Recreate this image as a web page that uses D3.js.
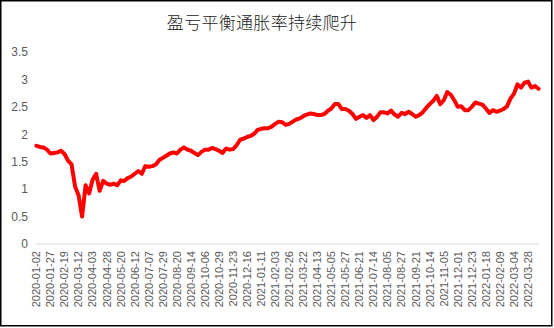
<!DOCTYPE html>
<html>
<head>
<meta charset="utf-8">
<script src="https://cdn.jsdelivr.net/npm/d3@7"></script>
<style>
  html, body { margin: 0; padding: 0; background: #fff; }
  svg { display: block; }
  .axis text { font-family: "Liberation Sans", Arial, sans-serif; fill: #595959; }
</style>
</head>
<body>
<svg id="chart" width="554" height="328"></svg>
<script>
// 10-year breakeven inflation rate (%), one reading every 4 trading days
const breakeven = [
  1.79, 1.77, 1.76, 1.72, 1.65, 1.66, 1.67, 1.70, 1.64, 1.52,
  1.45, 1.05, 0.89, 0.50, 1.07, 0.92, 1.17, 1.28, 0.97, 1.15,
  1.10, 1.08, 1.10, 1.07, 1.16, 1.15, 1.20, 1.23, 1.28, 1.33,
  1.28, 1.42, 1.41, 1.42, 1.45, 1.53, 1.57, 1.61, 1.65, 1.67,
  1.65, 1.72, 1.76, 1.72, 1.70, 1.66, 1.62, 1.68, 1.72, 1.72,
  1.75, 1.73, 1.70, 1.66, 1.74, 1.72, 1.73, 1.80, 1.90, 1.92,
  1.95, 1.97, 2.01, 2.08, 2.10, 2.11, 2.11, 2.14, 2.19, 2.23,
  2.22, 2.17, 2.19, 2.23, 2.27, 2.29, 2.33, 2.36, 2.38, 2.37,
  2.35, 2.35, 2.37, 2.43, 2.47, 2.55, 2.55, 2.46, 2.46, 2.43,
  2.37, 2.28, 2.32, 2.35, 2.30, 2.35, 2.26, 2.32, 2.40, 2.40,
  2.38, 2.43, 2.36, 2.32, 2.39, 2.37, 2.41, 2.37, 2.32, 2.35,
  2.40, 2.48, 2.55, 2.61, 2.70, 2.55, 2.62, 2.77, 2.72, 2.62,
  2.50, 2.51, 2.44, 2.44, 2.50, 2.58, 2.56, 2.54, 2.47, 2.39,
  2.44, 2.41, 2.43, 2.46, 2.51, 2.65, 2.74, 2.91, 2.85, 2.94,
  2.96, 2.85, 2.88, 2.83
];
const sampleStep = 4;          // trading days between readings
const tradingDays = 573;       // categories on the date axis
const labelStep = 16;          // trading days between date labels

const dateLabels = [
  "2020-01-02", "2020-01-27", "2020-02-19", "2020-03-12", "2020-04-03", "2020-04-28",
  "2020-05-20", "2020-06-12", "2020-07-07", "2020-07-29", "2020-08-20", "2020-09-14",
  "2020-10-06", "2020-10-29", "2020-11-23", "2020-12-16", "2021-01-11", "2021-02-03",
  "2021-02-26", "2021-03-22", "2021-04-13", "2021-05-05", "2021-05-27", "2021-06-21",
  "2021-07-14", "2021-08-05", "2021-08-27", "2021-09-21", "2021-10-14", "2021-11-05",
  "2021-12-01", "2021-12-23", "2022-01-18", "2022-02-09", "2022-03-04", "2022-03-28"
];
const yTicks = [0, 0.5, 1, 1.5, 2, 2.5, 3, 3.5];
const title = "盈亏平衡通胀率持续爬升";

const svg = d3.select("#chart");
const W = 554, H = 328;

// outer frame
svg.append("rect")
  .attr("x", 0.75).attr("y", 0.75)
  .attr("width", W - 3).attr("height", H - 3)
  .attr("fill", "#fff").attr("stroke", "#000").attr("stroke-width", 1.5);

const x = d3.scaleLinear().domain([0, tradingDays]).range([36, 539]);
const y = d3.scaleLinear().domain([0, 3.5]).range([244, 52]);

// title
svg.append("text")
  .attr("x", 262).attr("y", 29)
  .attr("text-anchor", "middle")
  .attr("font-family", "'Noto Sans CJK SC', sans-serif")
  .attr("font-weight", 300)
  .attr("font-size", 17)
  .attr("letter-spacing", 0.3)
  .attr("fill", "#1a1a1a")
  .text(title);

// y axis labels (no line, no ticks)
const yAxis = svg.append("g")
  .attr("class", "axis")
  .attr("transform", "translate(28,0)")
  .call(d3.axisLeft(y).tickValues(yTicks).tickSize(0).tickPadding(0)
    .tickFormat(d => String(d)));
yAxis.select(".domain").remove();
yAxis.selectAll("text").attr("font-size", 12).attr("font-family", null);

// baseline at zero
svg.append("line")
  .attr("x1", x(0)).attr("x2", x(tradingDays))
  .attr("y1", y(0)).attr("y2", y(0))
  .attr("stroke", "#d9d9d9").attr("stroke-width", 1);

// date axis, labels rotated
const labelIdx = dateLabels.map((d, i) => i * labelStep + 0.5);
const xAxis = svg.append("g")
  .attr("class", "axis")
  .attr("transform", `translate(0,${y(0)})`)
  .call(d3.axisBottom(x).tickValues(labelIdx).tickSize(0)
    .tickFormat((d, i) => dateLabels[i]));
xAxis.select(".domain").remove();
xAxis.selectAll("text")
  .attr("font-size", 11)
  .attr("font-family", null)
  .attr("transform", "rotate(-90)")
  .attr("text-anchor", "end")
  .attr("x", -7)
  .attr("y", -0.5)
  .attr("dy", "0.35em");

// breakeven line
const line = d3.line()
  .x((d, i) => x(i * sampleStep + 0.5))
  .y(d => y(d));

svg.append("path")
  .datum(breakeven)
  .attr("fill", "none")
  .attr("stroke", "#ff0000")
  .attr("stroke-width", 4)
  .attr("stroke-linejoin", "round")
  .attr("stroke-linecap", "round")
  .attr("d", line);
</script>
</body>
</html>
